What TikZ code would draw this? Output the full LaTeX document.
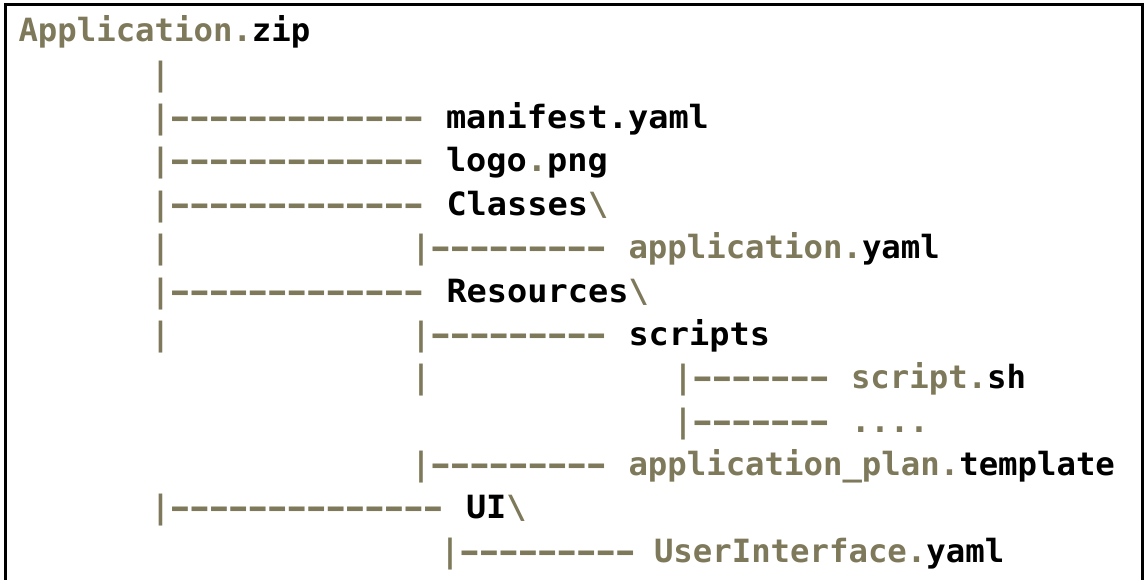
\documentclass[tikz,border=0pt]{standalone}
\usepackage{fontspec}
\newfontfamily\codefont[FakeStretch=1.01]{DejaVu Sans Mono}
\newfontfamily\widefont[FakeStretch=1.05]{DejaVu Sans Mono}
\newfontfamily\dashfont[FakeStretch=1.6]{DejaVu Sans Mono}
\definecolor{treeolive}{RGB}{126,121,90}
\newcount\dashcnt
\newcommand\dashrun[1]{\dashcnt=#1\relax\loop\ifnum\dashcnt>0 \makebox[19.46pt][c]{\dashfont\bfseries-}\advance\dashcnt by -1\repeat}
\newcommand\blk[1]{\textcolor{black}{#1}}
\tikzset{
  code/.style={inner sep=0pt, outer sep=0pt, anchor=base west,
    font=\fontsize{32}{32}\codefont\bfseries, text=treeolive},
  widecode/.style={code, font=\fontsize{32}{32}\widefont\bfseries},
  frame/.style={line width=3pt, draw=black}
}
\begin{document}
\begin{tikzpicture}[x=1pt,y=1pt]
\useasboundingbox (0,0) rectangle (1144,-580);
\fill[white] (0,0) rectangle (1144,-580);
\draw[frame] (5,-580) -- (5,-4.8) -- (1142.5,-4.8) -- (1142.5,-580);
% row 0
\node[code] (r0) at (18.5,-42) {Application.\blk{zip}};
% row 1
\node[code] (p1) at (150.8,-85.3) {|};
% row 2
\node[code] (p2) at (150.8,-128.7) {|};
\node[code] (d2) at (p2.base east) {\dashrun{13}};
\node[widecode] (l2) at (446,-128.7) {\blk{manifest.yaml}};
% row 3
\node[code] (p3) at (150.8,-172) {|};
\node[code] (d3) at (p3.base east) {\dashrun{13}};
\node[widecode] (l3) at (446,-172) {\blk{logo}.\blk{png}};
% row 4
\node[code] (p4) at (150.8,-215.3) {|};
\node[code] (d4) at (p4.base east) {\dashrun{13}};
\node[widecode] (l4) at (446.5,-215.3) {\blk{Classes}\textbackslash};
% row 5
\node[code] (p5a) at (150.8,-258.7) {|};
\node[code] (p5) at (411.3,-258.7) {|};
\node[code] (d5) at (p5.base east) {\dashrun{9}};
\node[code] (l5) at (628.5,-258.7) {application.\blk{yaml}};
% row 6
\node[code] (p6) at (150.8,-302) {|};
\node[code] (d6) at (p6.base east) {\dashrun{13}};
\node[widecode] (l6) at (446.5,-302) {\blk{Resources}\textbackslash};
% row 7
\node[code] (p7a) at (150.8,-345.3) {|};
\node[code] (p7) at (411.3,-345.3) {|};
\node[code] (d7) at (p7.base east) {\dashrun{9}};
\node[widecode] (l7) at (628.5,-345.3) {\blk{scripts}};
% row 8
\node[code] (p8a) at (411.3,-388.7) {|};
\node[code] (p8) at (673.3,-388.7) {|};
\node[code] (d8) at (p8.base east) {\dashrun{7}};
\node[code] (l8) at (851,-388.7) {script.\blk{sh}};
% row 9
\node[code] (p9) at (673.3,-432) {|};
\node[code] (d9) at (p9.base east) {\dashrun{7}};
\node[code] (l9) at (851,-432) {....};
% row 10
\node[code] (p10) at (411.3,-475.3) {|};
\node[code] (d10) at (p10.base east) {\dashrun{9}};
\node[code] (l10) at (628.5,-475.3) {application\_plan.\blk{template}};
% row 11
\node[code] (p11) at (150.8,-518.7) {|};
\node[code] (d11) at (p11.base east) {\dashrun{14}};
\node[widecode] (l11) at (466,-518.7) {\blk{UI}\textbackslash};
% row 12
\node[code] (p12) at (440.3,-562) {|};
\node[code] (d12) at (p12.base east) {\dashrun{9}};
\node[code] (l12) at (654,-562) {UserInterface.\blk{yaml}};
\end{tikzpicture}
\end{document}
